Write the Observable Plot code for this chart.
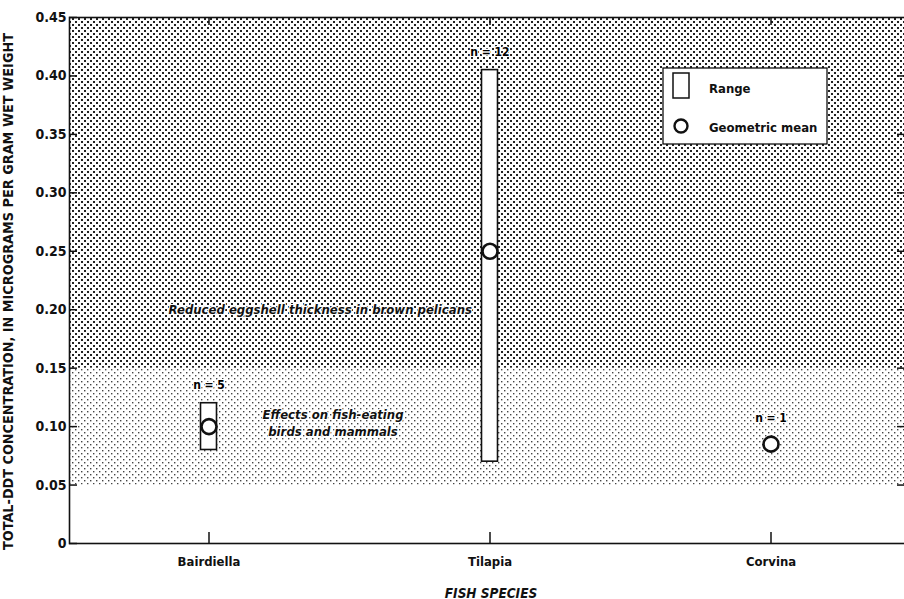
<!DOCTYPE html>
<html>
<head>
<meta charset="utf-8">
<script src="https://cdn.jsdelivr.net/npm/d3@7"></script>
<script src="https://cdn.jsdelivr.net/npm/@observablehq/plot@0.6"></script>
<style>
  body { margin: 0; background: #fff; overflow: hidden; }
  #chart svg { display: block; overflow: visible; max-width: none; }
  #chart svg g[aria-label="text"] { paint-order: stroke; }
</style>
</head>
<body>
<div id="chart"></div>
<script>
// Total-DDT in whole fish, by species
const species = ["Bairdiella", "Tilapia", "Corvina"];
const sampleCounts = [5, 12, 1];
const rangeLow = [0.08, 0.07, null];
const rangeHigh = [0.12, 0.405, null];
const geometricMean = [0.10, 0.25, 0.085];

// Effect thresholds shaded behind the data
const bandLow = [0.05, 0.15];
const bandHigh = [0.15, 0.45];
const bandPattern = ["dots-light", "dots-dark"];

const yTicks = [0, 0.05, 0.10, 0.15, 0.20, 0.25, 0.30, 0.35, 0.40, 0.45];

const effectNotes = ["Reduced eggshell thickness in brown pelicans", "Effects on fish-eating\nbirds and mammals"];
const effectNoteY = [0.20, 0.104];

const yTitle = "TOTAL-DDT CONCENTRATION, IN MICROGRAMS PER GRAM WET WEIGHT";
const xTitle = "FISH SPECIES";
const legendLabels = ["Range", "Geometric mean"];

const FONT = "'Liberation Sans Narrow', 'DejaVu Sans Condensed', 'Liberation Sans', sans-serif";

const fish = species.map((s, i) => ({
  species: s, n: sampleCounts[i], lo: rangeLow[i], hi: rangeHigh[i], mean: geometricMean[i]
}));
const ranged = fish.filter(d => d.lo != null);
const single = fish.filter(d => d.lo == null);
const bands = bandLow.map((lo, i) => ({lo, hi: bandHigh[i], pattern: bandPattern[i]}));
const notes = effectNotes.map((t, i) => ({text: t, y: effectNoteY[i]}));

const W = 904, H = 599;
const M = {left: 69, right: -8, top: 17, bottom: 56};
const frameW = W - M.left - M.right;

const ink = "#111";
const halo = {stroke: "white", strokeWidth: 2.2, paintOrder: "stroke"};
const nLabel = {text: d => `n = ${d.n}`, fontSize: 12, fontWeight: 600, fill: "black", ...halo};
const noteStyle = {fontSize: 13, fontWeight: 600, fontStyle: "italic", fill: ink, ...halo};
const tickStyle = {stroke: ink, strokeWidth: 1.5};

const chart = Plot.plot({
  width: W,
  height: H,
  marginLeft: M.left,
  marginRight: M.right,
  marginTop: M.top,
  marginBottom: M.bottom,
  style: {fontFamily: FONT, color: ink, background: "white"},
  x: {type: "band", domain: species, range: [68, 911], padding: 0},
  y: {domain: [0, 0.45]},
  marks: [
    Plot.rect(bands, {y1: "lo", y2: "hi", fill: d => `url(#${d.pattern})`}),
    Plot.frame({stroke: ink, strokeWidth: 1.6}),
    // short inward ticks along each edge of the frame
    Plot.tickY(yTicks, {y: d => d, insetRight: frameW - 8, ...tickStyle}),
    Plot.tickY(yTicks.filter(d => d > 0 && d < 0.45), {y: d => d, insetLeft: frameW - 15, ...tickStyle}),
    Plot.ruleX(species, {x: d => d, y1: 0, y2: 0, insetTop: -11, ...tickStyle}),
    Plot.ruleX(species, {x: d => d, y1: 0.45, y2: 0.45, insetBottom: -8, ...tickStyle}),
    Plot.axisY({ticks: yTicks, tickSize: 0, tickPadding: 3, tickFormat: d => d === 0 ? "0" : d.toFixed(2), fontSize: 14, fontWeight: 600, label: null}),
    Plot.axisX({tickSize: 0, tickPadding: 13, fontSize: 13, fontWeight: 600, label: null}),
    Plot.text([yTitle], {frameAnchor: "left", textAnchor: "middle", rotate: -90, dx: -61, dy: 11, fontSize: 14.3, fontWeight: 600}),
    Plot.text([xTitle], {frameAnchor: "bottom", textAnchor: "middle", dy: 54, fontSize: 13.5, fontWeight: 600, fontStyle: "italic"}),
    // range boxes, narrow and centred on each species
    Plot.barY(ranged, {x: "species", y1: "lo", y2: "hi", insetLeft: 132.5, insetRight: 132.5,
      fill: "white", stroke: ink, strokeWidth: 1.6}),
    Plot.dot(fish, {x: "species", y: "mean", r: 7.5, fill: "white", stroke: ink, strokeWidth: 2.6}),
    Plot.text(ranged, {x: "species", y: "hi", dy: -18, ...nLabel}),
    Plot.text(single, {x: "species", y: "mean", dy: -26, ...nLabel}),
    Plot.text(notes.slice(0, 1), {x: () => "Tilapia", y: "y", text: "text", dx: -18, textAnchor: "end", ...noteStyle}),
    Plot.text(notes.slice(1), {x: () => "Bairdiella", y: "y", text: "text", dx: 124, lineHeight: 1.3, ...noteStyle})
  ]
});

const svg = d3.select(chart);
// keep white halos behind the glyphs
svg.selectAll("g[aria-label='text']").attr("paint-order", "stroke");

// halftone fills for the shaded bands
const defs = svg.insert("defs", ":first-child");
function dotPattern(id, size, color) {
  const p = defs.append("pattern").attr("id", id).attr("patternUnits", "userSpaceOnUse")
    .attr("width", 6).attr("height", 6);
  p.append("rect").attr("x", 0).attr("y", 0).attr("width", size).attr("height", size).attr("fill", color);
  p.append("rect").attr("x", 3).attr("y", 3).attr("width", size).attr("height", size).attr("fill", color);
}
dotPattern("dots-dark", 2, "#222");
dotPattern("dots-light", 1.4, "#444");

// legend box in the upper right of the plot area
const lg = svg.append("g").attr("font-family", FONT).attr("fill", ink).attr("text-anchor", "start");
lg.append("rect").attr("x", 663).attr("y", 68).attr("width", 164).attr("height", 76)
  .attr("fill", "white").attr("stroke", ink).attr("stroke-width", 1.3);
lg.append("rect").attr("x", 673).attr("y", 73).attr("width", 16).attr("height", 25)
  .attr("fill", "white").attr("stroke", ink).attr("stroke-width", 1.5);
lg.append("circle").attr("cx", 681).attr("cy", 126).attr("r", 6.5)
  .attr("fill", "white").attr("stroke", ink).attr("stroke-width", 2.4);
lg.selectAll("text.lab").data(legendLabels).join("text").attr("class", "lab")
  .attr("x", 709).attr("y", (d, i) => i ? 127 : 88).attr("dy", "0.35em")
  .attr("font-size", 13).attr("font-weight", 600).text(d => d);

document.getElementById("chart").append(chart);
</script>
</body>
</html>
